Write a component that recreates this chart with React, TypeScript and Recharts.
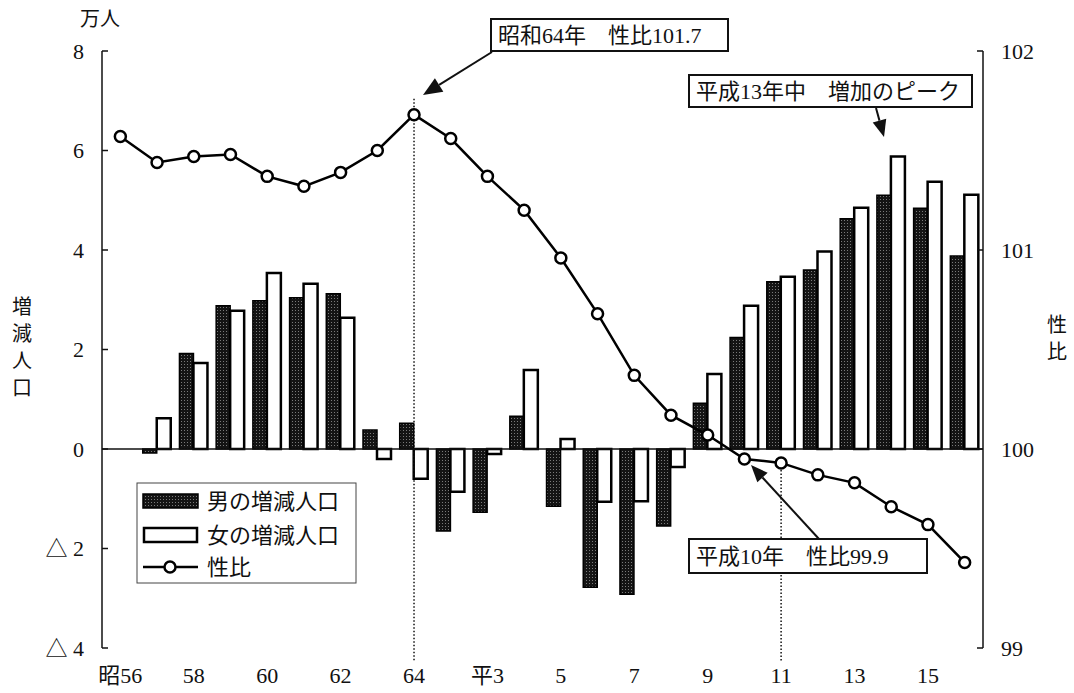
import { ComposedChart, Bar, Line, XAxis, YAxis, ReferenceLine } from "recharts";

// 昭和56年〜平成16年
const years = [
  "昭56", "57", "58", "59", "60", "61", "62", "63", "64",
  "平2", "平3", "4", "5", "6", "7", "8", "9", "10", "11", "12", "13", "14", "15", "16",
];
const maleChange = [
  null, -0.08, 1.92, 2.88, 2.98, 3.04, 3.12, 0.38, 0.52,
  -1.65, -1.27, 0.66, -1.15, -2.78, -2.92, -1.55, 0.92, 2.24, 3.36, 3.6, 4.63, 5.1, 4.84, 3.88,
];
const femaleChange = [
  null, 0.62, 1.73, 2.78, 3.54, 3.32, 2.64, -0.2, -0.6,
  -0.86, -0.1, 1.59, 0.2, -1.06, -1.05, -0.36, 1.51, 2.88, 3.46, 3.97, 4.85, 5.88, 5.37, 5.11,
];
const sexRatio = [
  101.57, 101.44, 101.47, 101.48, 101.37, 101.32, 101.39, 101.5, 101.68,
  101.56, 101.37, 101.2, 100.96, 100.68, 100.37, 100.17, 100.07, 99.95, 99.93, 99.87, 99.83, 99.71, 99.62, 99.43,
];

const leftTicks = [-4, -2, 0, 2, 4, 6, 8];
const rightTicks = [99, 100, 101, 102];

// dotted guide lines (year, top value on 性比 axis)
const guides = [
  { year: "64", from: 101.76 },
  { year: "11", from: 99.93 },
];
const GUIDE_BOTTOM = 98.93;

const rows = years.map((year, i) => ({
  year,
  male: maleChange[i],
  female: femaleChange[i],
  ratio: sexRatio[i],
}));

const FONT = "'Liberation Serif', 'Noto Sans CJK JP', serif";
const INK = "#111";
const TICK = { fill: INK, fontSize: 22, fontFamily: FONT };

function Arrow({ x1, y1, x2, y2, len = 17, half = 7 }: { x1: number; y1: number; x2: number; y2: number; len?: number; half?: number }) {
  const a = Math.atan2(y2 - y1, x2 - x1);
  const bx = x2 - len * Math.cos(a);
  const by = y2 - len * Math.sin(a);
  const px = -Math.sin(a) * half;
  const py = Math.cos(a) * half;
  return (
    <g>
      <line x1={x1} y1={y1} x2={bx} y2={by} stroke={INK} strokeWidth={2} />
      <polygon points={`${x2},${y2} ${bx + px},${by + py} ${bx - px},${by - py}`} fill={INK} />
    </g>
  );
}

function Note({ x, y, w, h, text }: { x: number; y: number; w: number; h: number; text: string }) {
  return (
    <g>
      <rect x={x} y={y} width={w} height={h} fill="#fff" stroke={INK} strokeWidth={2} />
      <text x={x + 7} y={y + h / 2} dy="0.36em" fontSize={22} fill={INK} fontFamily={FONT}>
        {text}
      </text>
    </g>
  );
}

export default function App() {
  return (
    <div style={{ position: "absolute", left: 0, top: 0, width: 1074, height: 693, background: "#fff" }}>
      <ComposedChart
        width={1074}
        height={693}
        data={rows}
        margin={{ top: 51, right: 31, bottom: 0, left: 42 }}
        barCategoryGap="11%"
        barGap={0}
      >
        <XAxis
          dataKey="year"
          interval={1}
          axisLine={false}
          tickLine={false}
          tickSize={0}
          tickMargin={19}
          height={45}
          tick={TICK}
        />
        <YAxis
          yAxisId="left"
          domain={[-4, 8]}
          ticks={leftTicks}
          width={60}
          tick={TICK}
          tickSize={-6}
          tickMargin={24}
          axisLine={{ stroke: INK, strokeWidth: 1.5 }}
          tickLine={{ stroke: INK, strokeWidth: 1.5 }}
          tickFormatter={(v: number) => (v < 0 ? `△ ${-v}` : `${v}`)}
        />
        <YAxis
          yAxisId="right"
          orientation="right"
          domain={[99, 102]}
          ticks={rightTicks}
          width={60}
          tick={TICK}
          tickSize={-6}
          tickMargin={24}
          axisLine={{ stroke: INK, strokeWidth: 1.5 }}
          tickLine={{ stroke: INK, strokeWidth: 1.5 }}
        />
        <Bar
          yAxisId="left"
          dataKey="male"
          fill="url(#maleDots)"
          stroke="#000"
          strokeWidth={1.5}
          isAnimationActive={false}
        />
        <Bar
          yAxisId="left"
          dataKey="female"
          fill="#fff"
          stroke="#000"
          strokeWidth={2.5}
          isAnimationActive={false}
        />
        <ReferenceLine yAxisId="left" y={0} stroke={INK} strokeWidth={1.5} />
        {guides.map((g) => (
          <ReferenceLine
            key={g.year}
            yAxisId="right"
            segment={[{ x: g.year, y: g.from }, { x: g.year, y: GUIDE_BOTTOM }]}
            stroke={INK}
            strokeWidth={1.5}
            strokeDasharray="1.5 2"
            ifOverflow="visible"
          />
        ))}
        <Line
          yAxisId="right"
          dataKey="ratio"
          stroke="#000"
          strokeWidth={2.5}
          dot={{ r: 5.5, fill: "#fff", stroke: "#000", strokeWidth: 2.5 }}
          isAnimationActive={false}
        />
      </ComposedChart>

      <svg
        width={1074}
        height={693}
        style={{ position: "absolute", left: 0, top: 0, pointerEvents: "none" }}
        fontFamily={FONT}
      >
        <defs>
          <pattern id="maleDots" width={3} height={3} patternUnits="userSpaceOnUse">
            <rect width={3} height={3} fill="#141414" />
            <rect x={1} y={1} width={1} height={1} fill="#7a7a7a" />
          </pattern>
        </defs>

        {/* axis titles */}
        <text x={100} y={19} dy="0.36em" textAnchor="middle" fontSize={20} fill={INK}>万人</text>
        {["増", "減", "人", "口"].map((c, i) => (
          <text key={c} x={22} y={307 + i * 27} dy="0.36em" textAnchor="middle" fontSize={20} fill={INK}>
            {c}
          </text>
        ))}
        {["性", "比"].map((c, i) => (
          <text key={c} x={1057} y={325 + i * 27} dy="0.36em" textAnchor="middle" fontSize={20} fill={INK}>
            {c}
          </text>
        ))}

        {/* annotations */}
        <Note x={491} y={19} w={237} h={32} text="昭和64年　性比101.7" />
        <Arrow x1={492} y1={52} x2={423} y2={95} len={19} half={8} />
        <Note x={689} y={75} w={283} h={32} text="平成13年中　増加のピーク" />
        <Arrow x1={876} y1={108} x2={884} y2={137} />
        <Note x={689} y={539} w={238} h={34} text="平成10年　性比99.9" />
        <Arrow x1={819} y1={539} x2={751} y2={465} />

        {/* legend */}
        <g>
          <rect x={137} y={483} width={219} height={100} fill="#fff" stroke="#444" strokeWidth={1} />
          <rect x={143} y={494} width={55} height={14} fill="url(#maleDots)" stroke="#000" strokeWidth={1.5} />
          <text x={207} y={501} dy="0.36em" fontSize={22} fill={INK}>男の増減人口</text>
          <rect x={144} y={528} width={53} height={14} fill="#fff" stroke="#000" strokeWidth={2.5} />
          <text x={207} y={535} dy="0.36em" fontSize={22} fill={INK}>女の増減人口</text>
          <line x1={143} y1={567} x2={198} y2={567} stroke="#000" strokeWidth={2.5} />
          <circle cx={170} cy={567} r={5.5} fill="#fff" stroke="#000" strokeWidth={2.5} />
          <text x={207} y={567} dy="0.36em" fontSize={22} fill={INK}>性比</text>
        </g>
      </svg>
    </div>
  );
}
